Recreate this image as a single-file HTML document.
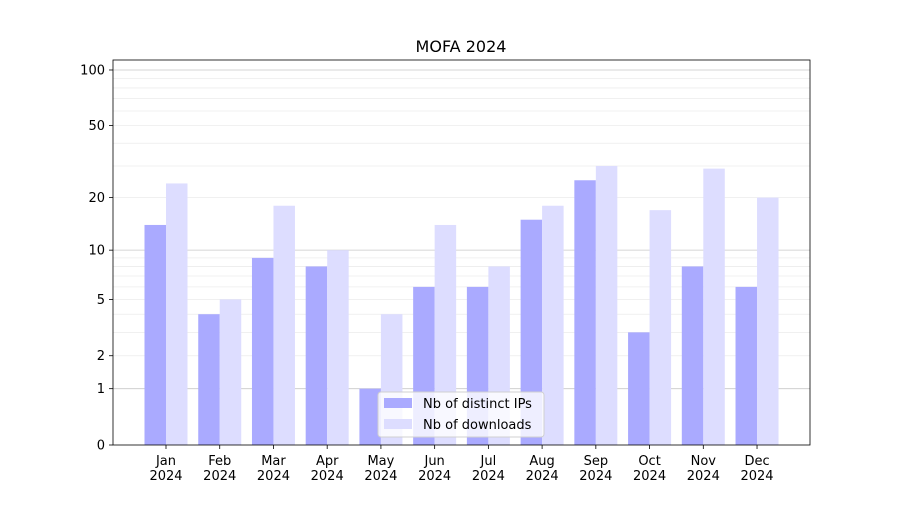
<!DOCTYPE html>
<html><head><meta charset="utf-8"><style>
body{margin:0;background:#fff;}
svg{font-family:"DejaVu Sans","Liberation Sans",sans-serif;}
</style></head><body>
<svg id="chart" width="900" height="500">
<rect width="900" height="500" fill="#fff"/>
<g id="grid"></g><g id="bars"></g><g id="axes"></g>
</svg>
<script>
const months=["Jan","Feb","Mar","Apr","May","Jun","Jul","Aug","Sep","Oct","Nov","Dec"];
const ipValues=[14,4,9,8,1,6,6,15,25,3,8,6];
const downloadValues=[24,5,18,10,4,14,8,18,30,17,29,20];
const yTicks=[0,1,2,5,10,20,50,100];
const minorTicks=[2,3,4,5,6,7,8,9,20,30,40,50,60,70,80,90];
const majorGrid=[1,10,100];
const NS="http://www.w3.org/2000/svg";
const L=113,R=810,T=60,B=445;
function y(v){return B-Math.log10(v+1)*187.1;}
function x(i){return 166+i*53.73;}
const bw=21.5;
function mk(tag,attrs,parent,text){const e=document.createElementNS(NS,tag);for(const k in attrs)e.setAttribute(k,attrs[k]);if(text!==undefined)e.textContent=text;document.getElementById(parent).appendChild(e);return e;}
minorTicks.forEach(v=>{const e=mk('line',{x1:L,x2:R,y1:y(v),y2:y(v),stroke:'#ececec','stroke-width':0.8},'grid');

});
majorGrid.forEach(v=>{const e=mk('line',{x1:L,x2:R,y1:y(v),y2:y(v),stroke:'#c8c8c8','stroke-width':0.8},'grid');

});
months.forEach((m,i)=>{
 const a=mk('rect',{x:x(i)-bw,y:y(ipValues[i]),width:bw,height:B-y(ipValues[i]),fill:'#aaaaff'},'bars');
 
 
 const b=mk('rect',{x:x(i),y:y(downloadValues[i]),width:bw,height:B-y(downloadValues[i]),fill:'#ddddff'},'bars');
 
 
 mk('line',{x1:x(i),x2:x(i),y1:B,y2:B+4,stroke:'#000','stroke-width':0.8},'axes');
 const t=mk('text',{x:x(i),y:B+20,'font-size':13,'text-anchor':'middle'},'axes',m);
 
 
 const t2=mk('text',{x:x(i),y:B+35,'font-size':13,'text-anchor':'middle'},'axes','2024');
 
 
});
yTicks.forEach(v=>{
 mk('line',{x1:L-4,x2:L,y1:y(v),y2:y(v),stroke:'#000','stroke-width':0.8},'axes');
 const t=mk('text',{x:L-8,y:y(v)+4.5,'font-size':13,'text-anchor':'end'},'axes',String(v));
 
 
});
const f=mk('rect',{x:L,y:T,width:R-L,height:B-T,fill:'none',stroke:'#000','stroke-width':0.8},'axes');


</script>
<svg style="position:absolute;left:0;top:0" width="900" height="500">
<text x="461" y="52" font-size="16" text-anchor="middle">MOFA 2024</text>
<g>
<rect x="378" y="392" width="166" height="45" rx="3" fill="#fff" fill-opacity="0.8" stroke="#d0d0d0"/>
<rect x="384" y="398" width="28" height="10" fill="#aaaaff"/>
<text x="423" y="408" font-size="13">Nb of distinct IPs</text>
<rect x="384" y="419" width="28" height="10" fill="#ddddff"/>
<text x="423" y="429" font-size="13">Nb of downloads</text>
</g>
</svg>
</body></html>
